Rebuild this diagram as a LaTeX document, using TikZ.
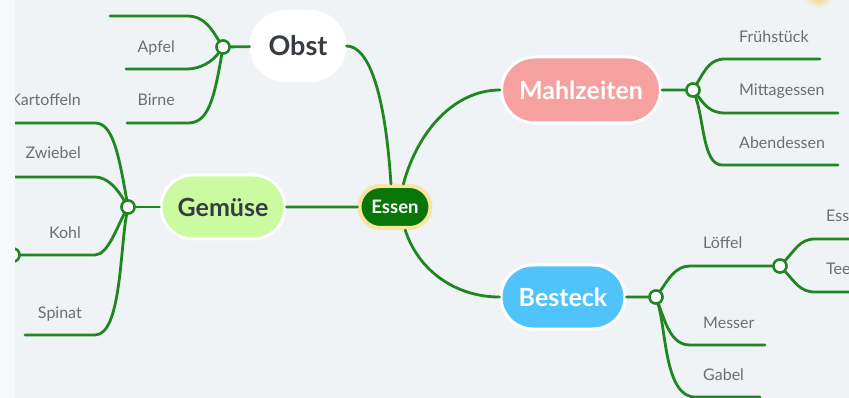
\documentclass[tikz,border=0pt]{standalone}
\usepackage{fontspec}
\setmainfont{Lato}
\usetikzlibrary{shapes.misc}
\definecolor{bg}{RGB}{239,243,246}
\definecolor{bgl}{RGB}{246,248,250}
\definecolor{ln}{RGB}{32,134,32}
\definecolor{labc}{RGB}{108,110,114}
\definecolor{dark}{RGB}{55,60,66}
\definecolor{gemc}{RGB}{204,250,160}
\definecolor{mahlc}{RGB}{247,160,160}
\definecolor{bestc}{RGB}{80,195,250}
\definecolor{essg}{RGB}{8,118,8}
\definecolor{essy}{RGB}{250,228,160}
\definecolor{sun}{RGB}{250,195,60}
\begin{document}
\begin{tikzpicture}[x=1pt,y=-1pt,line join=round,line cap=round,
  conn/.style={draw=ln,line width=2.8pt},
  main/.style={rounded rectangle,draw=white,line width=3pt,inner sep=0pt,
    font=\fontsize{25}{28}\selectfont\bfseries},
  junc/.style={circle,draw=ln,fill=white,line width=2.4pt,minimum size=13pt,inner sep=0pt},
  lab/.style={text=labc,font=\fontsize{16}{19}\selectfont,inner sep=0pt,text height=11.5pt,text depth=0pt}]
\useasboundingbox (0,0) rectangle (849,398);
\fill[bg] (0,0) rectangle (849,398);
\fill[bgl] (0,0) rectangle (15,398);
\begin{scope}
\clip (15,0) rectangle (849,398);
\shade[inner color=sun,outer color=bg] (818,-9) circle (17);
% main nodes
\node[main,fill=white,text=dark,minimum width=94,minimum height=69,font=\fontsize{27}{30}\selectfont\bfseries] (obst) at (298,46) {Obst};
\node[main,fill=gemc,text=dark,minimum width=124,minimum height=64] (gem) at (223,207) {Gemüse};
\node[main,fill=mahlc,text=white,minimum width=159,minimum height=66] (mahl) at (581,90) {Mahlzeiten};
\node[main,fill=bestc,text=white,minimum width=124,minimum height=64] (best) at (563,297) {Besteck};
\node[rounded rectangle,fill=essg,draw=essy,line width=4pt,minimum width=71,minimum height=42,inner sep=0pt,
  text=white,font=\fontsize{18.5}{21}\selectfont\bfseries] (essen) at (395,207) {Essen};
% junctions
\node[junc] (jo) at (223,47) {};
\node[junc] (jg) at (128,207) {};
\node[junc] (jm) at (693,90) {};
\node[junc] (jb) at (656,297) {};
\node[junc] (jl) at (780,266) {};
\node[junc] (jk) at (13,255) {};
% free ends
\coordinate (o1) at (110,16);
\coordinate (o2) at (126,69);
\coordinate (o3) at (127,123);
\coordinate (g1) at (15,123);
\coordinate (g2) at (15,177);
\coordinate (g4) at (25,335);
\coordinate (m1) at (820,59);
\coordinate (m2) at (838,113);
\coordinate (m3) at (838,165);
\coordinate (b2) at (765,345);
\coordinate (b3) at (760,397);
\coordinate (l1) at (849,239);
\coordinate (l2) at (849,292);
% connectors from Essen
\draw[conn] (essen.100) .. controls (385,90) and (368,46) .. (obst.east);
\draw[conn] (essen.70) .. controls (418,130) and (455,90) .. (mahl.west);
\draw[conn] (essen.-66) .. controls (418,270) and (455,297) .. (best.west);
\draw[conn] (essen) -- (gem);
% Obst
\draw[conn] (jo) -- (obst);
\draw[conn] (jo) .. controls (212,30) and (205,16) .. (187,16) -- (o1);
\draw[conn] (jo) .. controls (212,62) and (200,69) .. (187,69) -- (o2);
\draw[conn] (jo) .. controls (214,100) and (208,123) .. (188,123) -- (o3);
% Gemuese
\draw[conn] (jg) -- (gem);
\draw[conn] (jg) .. controls (118,150) and (112,123) .. (95,123) -- (g1);
\draw[conn] (jg) .. controls (118,190) and (108,177) .. (95,177) -- (g2);
\draw[conn] (jg) .. controls (118,225) and (108,255) .. (95,255) -- (jk);
\draw[conn] (jg) .. controls (120,250) and (121,335) .. (95,335) -- (g4);
% Mahlzeiten
\draw[conn] (jm) -- (mahl);
\draw[conn] (jm) .. controls (705,70) and (710,59) .. (725,59) -- (m1);
\draw[conn] (jm) .. controls (705,105) and (710,113) .. (725,113) -- (m2);
\draw[conn] (jm) .. controls (704,120) and (703,165) .. (722,165) -- (m3);
% Besteck
\draw[conn] (jb) -- (best);
\draw[conn] (jb) .. controls (668,280) and (675,266) .. (690,266) -- (jl);
\draw[conn] (jb) .. controls (666,325) and (672,345) .. (690,345) -- (b2);
\draw[conn] (jb) .. controls (666,330) and (665,397) .. (695,397) -- (b3);
\draw[conn] (jl) .. controls (795,250) and (800,239) .. (815,239) -- (l1);
\draw[conn] (jl) .. controls (795,282) and (800,292) .. (815,292) -- (l2);
% redraw junctions on top
\node[junc] at (jo) {};
\node[junc] at (jg) {};
\node[junc] at (jm) {};
\node[junc] at (jb) {};
\node[junc] at (jl) {};
\node[junc] at (jk) {};
% labels
\node[lab,anchor=east] (la) at (175,47) {Apfel};
\node[lab,anchor=east] (lb) at (175,100) {Birne};
\node[lab,anchor=east] (lk) at (81,100) {Kartoffeln};
\node[lab,anchor=east] (lz) at (81,153) {Zwiebel};
\node[lab,anchor=east] (lh) at (81,233) {Kohl};
\node[lab,anchor=east] (ls) at (82,313) {Spinat};
\node[lab,anchor=west] (lf) at (739,37) {Frühstück};
\node[lab,anchor=west] (lm) at (739,90) {Mittagessen};
\node[lab,anchor=west] (lab1) at (739,143) {Abendessen};
\node[lab,anchor=west] (llo) at (703,243) {Löffel};
\node[lab,anchor=west] (lme) at (703,323) {Messer};
\node[lab,anchor=west] (lga) at (703,375) {Gabel};
\node[lab,anchor=west] (les) at (826,216) {Ess};
\node[lab,anchor=west] (lte) at (826,269) {Tee};
\end{scope}
\end{tikzpicture}
\end{document}
